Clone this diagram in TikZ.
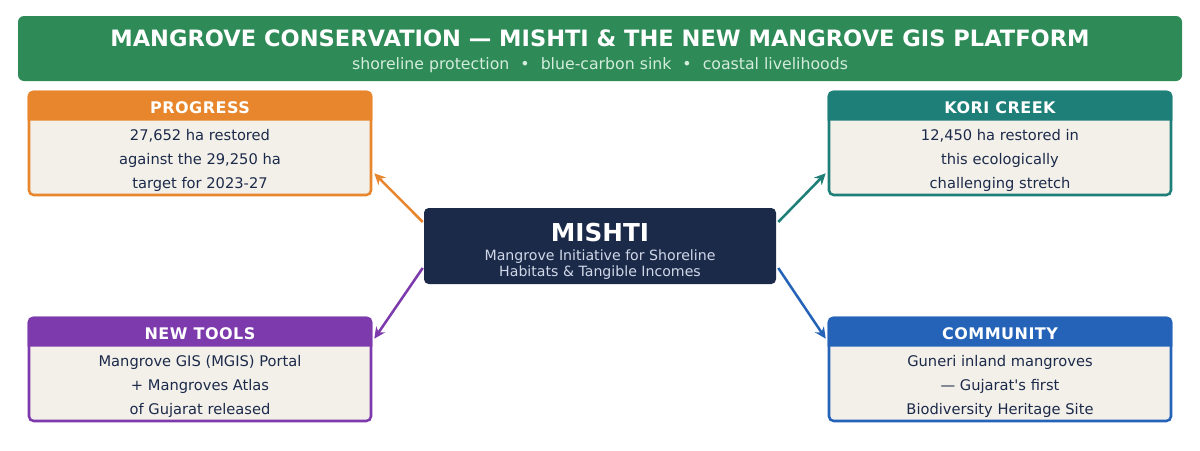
\documentclass[tikz,border=0pt]{standalone}
\usepackage{fontspec}
\setmainfont{DejaVu Sans}
\usepackage{xcolor}
\usetikzlibrary{positioning, calc, arrows.meta}

\definecolor{titlegreen}{HTML}{2E8B57}
\definecolor{subgreen}{HTML}{D4ECDC}
\definecolor{progorange}{HTML}{E8862D}
\definecolor{koriteal}{HTML}{1E7F78}
\definecolor{toolpurple}{HTML}{7D3AAD}
\definecolor{commblue}{HTML}{2563B8}
\definecolor{navy}{HTML}{1C2A4A}
\definecolor{cream}{HTML}{F3F0EA}
\definecolor{mishtisub}{HTML}{D0D8E8}

\begin{document}
\begin{tikzpicture}[x=0.75pt,y=-0.75pt,
    card/.style={draw=#1, fill=cream, line width=1.9pt, rounded corners=3.5pt,
        minimum width=256.5pt, minimum height=77.25pt, inner sep=0pt},
    cardhead/.style={font=\fontsize{12}{14}\selectfont\bfseries\addfontfeature{LetterSpace=3}, text=white},
    cardtext/.style={font=\fontsize{11}{18}\selectfont, text=navy, align=center},
    link/.style={draw=#1, line width=1.9pt, -{Stealth[length=8.5pt,width=8pt]}}]

    \useasboundingbox (0,0) rectangle (1200,450);

    % Title banner
    \node[fill=titlegreen, rounded corners=4.5pt, minimum width=873pt, minimum height=48.75pt] (banner) at (600,48.5) {};
    \node[text=white, font=\fontsize{16.9}{19}\selectfont\bfseries] (title) at (600,38)
        {MANGROVE CONSERVATION — MISHTI \& THE NEW MANGROVE GIS PLATFORM};
    \node[text=subgreen, font=\fontsize{11.8}{13}\selectfont] (subtitle) at (600,65.5)
        {shoreline protection\hspace{0.7em}•\hspace{0.7em}blue-carbon sink\hspace{0.7em}•\hspace{0.7em}coastal livelihoods};

    % Centre box
    \node[fill=navy, rounded corners=3.5pt, minimum width=264pt, minimum height=57pt] (mishti) at (600,246) {};
    \node[text=white, font=\fontsize{18.5}{22}\selectfont\bfseries] (mishtiname) at (600,233) {MISHTI};
    \node[text=mishtisub, font=\fontsize{10.6}{12}\selectfont, align=center] (mishtifull) at (600,265)
        {Mangrove Initiative for Shoreline\\Habitats \& Tangible Incomes};

    % Progress card
    \node[card=progorange] (prog) at (200,143.5) {};
    \fill[progorange] ($(prog.north west)+(0,30)$) [rounded corners=3.5pt] -- (prog.north west)
        -- (prog.north east) [sharp corners] -- ($(prog.north east)+(0,30)$) -- cycle;
    \node[cardhead] (proghead) at ($(prog.north)+(0,16.5)$) {PROGRESS};
    \node[cardtext] (progtext) at ($(prog.center)+(0,16.5)$)
        {27,652 ha restored\\against the 29,250 ha\\target for 2023-27};

    % Kori Creek card
    \node[card=koriteal] (kori) at (1000,143.5) {};
    \fill[koriteal] ($(kori.north west)+(0,30)$) [rounded corners=3.5pt] -- (kori.north west)
        -- (kori.north east) [sharp corners] -- ($(kori.north east)+(0,30)$) -- cycle;
    \node[cardhead] (korihead) at ($(kori.north)+(0,16.5)$) {KORI CREEK};
    \node[cardtext] (koritext) at ($(kori.center)+(0,16.5)$)
        {12,450 ha restored in\\this ecologically\\challenging stretch};

    % New tools card
    \node[card=toolpurple] (tools) at (200,369.5) {};
    \fill[toolpurple] ($(tools.north west)+(0,30)$) [rounded corners=3.5pt] -- (tools.north west)
        -- (tools.north east) [sharp corners] -- ($(tools.north east)+(0,30)$) -- cycle;
    \node[cardhead] (toolshead) at ($(tools.north)+(0,16.5)$) {NEW TOOLS};
    \node[cardtext] (toolstext) at ($(tools.center)+(0,16.5)$)
        {Mangrove GIS (MGIS) Portal\\+ Mangroves Atlas\\of Gujarat released};

    % Community card
    \node[card=commblue] (comm) at (1000,369.5) {};
    \fill[commblue] ($(comm.north west)+(0,30)$) [rounded corners=3.5pt] -- (comm.north west)
        -- (comm.north east) [sharp corners] -- ($(comm.north east)+(0,30)$) -- cycle;
    \node[cardhead] (commhead) at ($(comm.north)+(0,16.5)$) {COMMUNITY};
    \node[cardtext] (commtext) at ($(comm.center)+(0,16.5)$)
        {Guneri inland mangroves\\— Gujarat\textquotesingle s first\\Biodiversity Heritage Site};

    % Arrows out of the centre
    \draw[link=progorange] ($(mishti.west)+(-1,-24)$) -- ($(prog.south east)+(2,-23)$);
    \draw[link=toolpurple] ($(mishti.west)+(-1,22)$) -- ($(tools.north east)+(2,22)$);
    \draw[link=koriteal] ($(mishti.east)+(2,-24)$) -- ($(kori.south west)+(-2,-23)$);
    \draw[link=commblue] ($(mishti.east)+(2,22)$) -- ($(comm.north west)+(-2,22)$);

\end{tikzpicture}
\end{document}
